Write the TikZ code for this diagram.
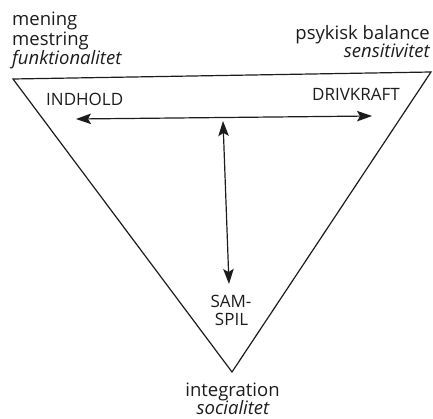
\documentclass[tikz,border=0pt]{standalone}
\usepackage{fontspec}
\setmainfont{Open Sans}
\usetikzlibrary{arrows.meta}
\definecolor{ink}{HTML}{1c1c1c}
\tikzset{
  lbl/.style={inner sep=0pt, font=\fontsize{18.5}{19.5}\selectfont, text=ink},
  capslbl/.style={inner sep=0pt, font=\fontsize{17}{18}\selectfont, text=ink},
  dbl/.style={{Stealth[length=15pt,width=10.5pt,inset=3pt]}-{Stealth[length=15pt,width=10.5pt,inset=3pt]}, line width=1.2pt, draw=ink},
  tri/.style={draw=ink, line width=1.2pt, line join=miter}
}
\begin{document}
\begin{tikzpicture}[x=1pt,y=-1pt]
\useasboundingbox (0,0) rectangle (433,419);
\coordinate (tl) at (13,79);
\coordinate (tr) at (431,72);
\coordinate (bt) at (232,372);
\draw[tri] (tl) -- (tr) -- (bt) -- cycle;
\node[lbl, anchor=base west] (m1) at (12,26) {mening};
\node[lbl, anchor=base west] (m2) at (12,45.5) {mestring};
\node[lbl, anchor=base west] (m3) at (12,65) {\itshape funktionalitet};
\node[lbl, anchor=base east] (p1) at (430,39.5) {psykisk balance};
\node[lbl, anchor=base east] (p2) at (430,58) {\itshape sensitivitet};
\node[lbl, anchor=base] (i1) at (232.5,396) {integration};
\node[lbl, anchor=base] (i2) at (233,414.5) {\itshape socialitet};
\node[capslbl, anchor=base west] (ind) at (46,106) {INDHOLD};
\node[capslbl, anchor=base east] (drv) at (400,101) {DRIVKRAFT};
\node[capslbl, anchor=base] (sam) at (231,307) {SAM-};
\node[capslbl, anchor=base] (spl) at (231.5,325) {SPIL};
\coordinate (hl) at (76,119);
\coordinate (hr) at (372,116);
\coordinate (vt) at (223,121);
\coordinate (vb) at (229,284);
\draw[dbl] (hl) -- (hr);
\draw[dbl] (vt) -- (vb);
\end{tikzpicture}
\end{document}
